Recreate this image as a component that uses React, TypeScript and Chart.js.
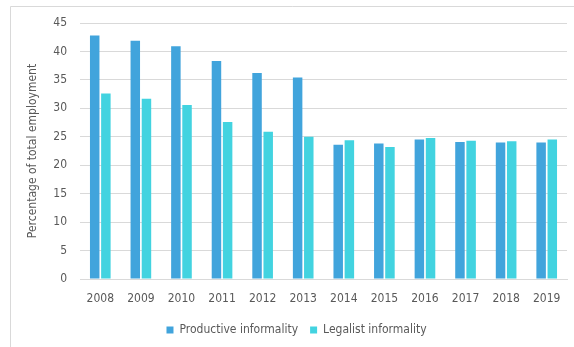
import React, { useEffect, useRef } from "react";
import { Chart, registerables } from "chart.js";

Chart.register(...registerables);

const years = ["2008", "2009", "2010", "2011", "2012", "2013", "2014", "2015", "2016", "2017", "2018", "2019"];
const productiveInformality = [42.8, 41.9, 40.9, 38.3, 36.2, 35.4, 23.6, 23.8, 24.5, 24.1, 24.0, 24.0];
const legalistInformality = [32.6, 31.7, 30.6, 27.6, 25.9, 25.0, 24.4, 23.2, 24.8, 24.3, 24.2, 24.5];
const yTicks = [0, 5, 10, 15, 20, 25, 30, 35, 40, 45];

const FONT = "'DejaVu Sans', sans-serif";
// "condensed" goes into the canvas font shorthand as the font-stretch keyword
const TEXT_FONT = { family: FONT, size: 12, weight: "condensed" as any };
const TEXT = "#595959";
const GRID = "#d9d9d9";

// light frame along the top and left edges of the panel
const framePlugin = {
  id: "panelFrame",
  beforeDraw(chart: any) {
    const ctx = chart.ctx;
    ctx.save();
    ctx.strokeStyle = "#d9d9d9";
    ctx.lineWidth = 1;
    ctx.beginPath();
    ctx.moveTo(10.5, chart.height);
    ctx.lineTo(10.5, 6.5);
    ctx.lineTo(chart.width, 6.5);
    ctx.stroke();
    ctx.restore();
  },
};

export default function App() {
  const ref = useRef<HTMLCanvasElement>(null);

  useEffect(() => {
    if (!ref.current) return;
    const chart = new Chart(ref.current, {
      type: "bar",
      data: {
        labels: years,
        datasets: [
          {
            label: "Productive informality",
            data: productiveInformality,
            backgroundColor: "#41a4dc",
            categoryPercentage: 0.55,
            barPercentage: 0.85,
          },
          {
            label: "Legalist informality",
            data: legalistInformality,
            backgroundColor: "#42d3e0",
            categoryPercentage: 0.55,
            barPercentage: 0.85,
          },
        ],
      },
      options: {
        animation: false,
        responsive: false,
        maintainAspectRatio: false,
        layout: { padding: { left: 26, right: 7, top: 23, bottom: 1 } },
        plugins: {
          tooltip: { enabled: false },
          legend: {
            position: "bottom",
            labels: {
              boxWidth: 7,
              boxHeight: 7,
              padding: 12,
              color: TEXT,
              font: TEXT_FONT,
            },
          },
        },
        scales: {
          x: {
            grid: { display: false, drawTicks: false },
            border: { color: GRID, width: 1 },
            ticks: { color: TEXT, padding: 13, font: TEXT_FONT },
            afterFit(scale: any) {
              scale.height = 33;
            },
          },
          y: {
            min: 0,
            max: 45,
            afterBuildTicks(scale: any) {
              scale.ticks = yTicks.map((v) => ({ value: v }));
            },
            grid: { color: GRID, lineWidth: 1, drawTicks: false },
            border: { display: false },
            ticks: { color: TEXT, padding: 13, font: TEXT_FONT },
            title: {
              display: true,
              text: "Percentage of total employment",
              color: TEXT,
              font: TEXT_FONT,
              padding: 0,
            },
            afterFit(scale: any) {
              scale.width = 54;
            },
          },
        },
      },
      plugins: [framePlugin],
    });
    return () => chart.destroy();
  }, []);

  return (
    <canvas
      ref={ref}
      width={574}
      height={347}
      style={{ position: "fixed", left: 0, top: 0, width: 574, height: 347 }}
    />
  );
}
